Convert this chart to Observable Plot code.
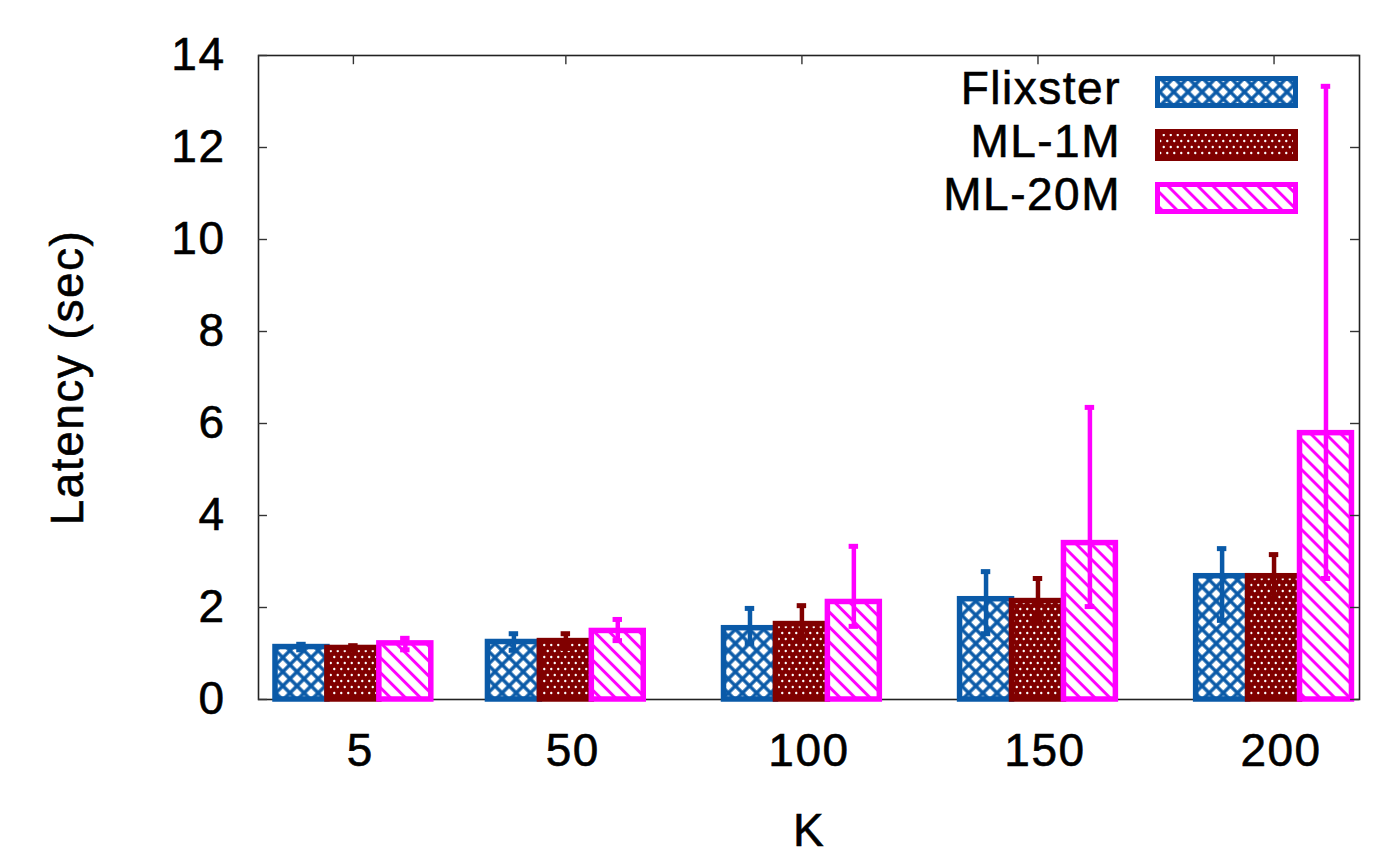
<!DOCTYPE html>
<html><head><meta charset="utf-8">
<script src="https://cdn.jsdelivr.net/npm/d3@7"></script>
<script src="https://cdn.jsdelivr.net/npm/@observablehq/plot@0.6"></script>
<style>
body{margin:0;background:#fff;}
#wrap{position:relative;width:1400px;height:855px;overflow:hidden;}
#legend{position:absolute;left:0;top:0;width:1400px;height:855px;pointer-events:none;}
svg text{stroke:#000;stroke-width:0.6px;}
</style></head><body>
<svg width="0" height="0" style="position:absolute">
  <defs>
    <pattern id="pFlix" patternUnits="userSpaceOnUse" width="10" height="10" patternTransform="rotate(45)">
      <rect width="10" height="10" fill="#fff"/>
      <line x1="5" y1="0" x2="5" y2="10" stroke="#0a5aa8" stroke-width="3.4"/>
      <line x1="0" y1="5" x2="10" y2="5" stroke="#0a5aa8" stroke-width="3.4"/>
    </pattern>
    <pattern id="pML1M" patternUnits="userSpaceOnUse" width="7" height="12">
      <rect width="7" height="12" fill="#800000"/>
      <circle cx="1.75" cy="3" r="1.2" fill="#fff"/>
      <circle cx="5.25" cy="9" r="1.2" fill="#fff"/>
    </pattern>
    <pattern id="pML20M" patternUnits="userSpaceOnUse" width="10.6" height="10.6" patternTransform="rotate(-45)">
      <rect width="10.6" height="10.6" fill="#fff"/>
      <line x1="5.3" y1="0" x2="5.3" y2="10.6" stroke="#ff00ff" stroke-width="3"/>
    </pattern>
  </defs>
</svg>
<div id="wrap"><svg id="legend"></svg></div>
<script>
// ---- data ----
const K = [5, 50, 100, 150, 200];
const seriesNames = ["Flixster", "ML-1M", "ML-20M"];
const flixster   = [1.14, 1.25, 1.55, 2.18, 2.68];
const flixsterLo = [1.08, 1.07, 1.22, 1.43, 1.72];
const flixsterHi = [1.20, 1.43, 1.98, 2.78, 3.28];
const ml1m   = [1.12, 1.27, 1.64, 2.14, 2.68];
const ml1mLo = [1.07, 1.11, 1.30, 1.70, 2.20];
const ml1mHi = [1.17, 1.43, 2.04, 2.63, 3.15];
const ml20m   = [1.22, 1.49, 2.12, 3.40, 5.79];
const ml20mLo = [1.08, 1.28, 1.59, 2.02, 2.63];
const ml20mHi = [1.33, 1.74, 3.33, 6.35, 13.33];
const yTicks = [0, 2, 4, 6, 8, 10, 12, 14];

// ---- styles ----
const colors = ["#0a5aa8", "#800000", "#ff00ff"];
const fills = ["url(#pFlix)", "url(#pML1M)", "url(#pML20M)"];
const xDomain = [-15.1, 218.1];
const yDomain = [0, 14];
const barW = 11;      // in x units
const capHalf = 1.0;  // in x units
const tickX = 1.9;    // inward tick length in x units
const tickY = 0.2;    // inward tick length in y units
const FONT = "'Liberation Sans', Arial, Helvetica, sans-serif";

const series = [
  {mean: flixster, lo: flixsterLo, hi: flixsterHi},
  {mean: ml1m, lo: ml1mLo, hi: ml1mHi},
  {mean: ml20m, lo: ml20mLo, hi: ml20mHi}
];
const rows = series.map((s, i) => K.map((k, j) => ({k, x: k + (i - 1) * barW, v: s.mean[j], lo: s.lo[j], hi: s.hi[j]})));

const marks = [Plot.frame({stroke: "#222", strokeWidth: 1.6})];
rows.forEach((r, i) => {
  marks.push(Plot.rectY(r, {x1: d => d.x - barW / 2, x2: d => d.x + barW / 2, y1: 0, y2: "v", fill: fills[i], stroke: colors[i], strokeWidth: 5.5}));
  marks.push(Plot.ruleX(r, {x: "x", y1: "lo", y2: "hi", stroke: colors[i], strokeWidth: 4.5}));
  marks.push(Plot.ruleY(r, {y: "hi", x1: d => d.x - capHalf, x2: d => d.x + capHalf, stroke: colors[i], strokeWidth: 5}));
  marks.push(Plot.ruleY(r, {y: "lo", x1: d => d.x - capHalf, x2: d => d.x + capHalf, stroke: colors[i], strokeWidth: 5}));
});
marks.push(Plot.ruleY(yTicks, {y: d => d, x1: xDomain[0], x2: xDomain[0] + tickX, stroke: "#333", strokeWidth: 1.4}));
marks.push(Plot.ruleY(yTicks, {y: d => d, x1: xDomain[1] - tickX, x2: xDomain[1], stroke: "#333", strokeWidth: 1.4}));
marks.push(Plot.ruleX(K, {x: d => d, y1: yDomain[1], y2: yDomain[1] - tickY, stroke: "#333", strokeWidth: 1.4}));
marks.push(Plot.axisY({ticks: yTicks, tickSize: 0, tickPadding: 33, tickFormat: d => String(d), label: "Latency (sec)", labelAnchor: "center", labelArrow: "none", labelOffset: 208}));
marks.push(Plot.axisX({ticks: K, tickSize: 0, tickPadding: 34, dx: 7, tickFormat: d => String(d), label: "K", labelAnchor: "center", labelArrow: "none", labelOffset: 146}));

const chart = Plot.plot({
  width: 1400, height: 855,
  marginLeft: 258, marginRight: 41, marginTop: 55, marginBottom: 156,
  x: {domain: xDomain},
  y: {domain: yDomain},
  style: {fontFamily: FONT, fontSize: "46px", color: "#000", background: "#fff", letterSpacing: "1.5px", overflow: "visible"},
  marks
});
const wrap = document.getElementById("wrap");
wrap.insertBefore(chart, wrap.firstChild);
chart.style.position = "absolute"; chart.style.left = "0"; chart.style.top = "0";

// ---- legend ----
const leg = d3.select("#legend");
seriesNames.forEach((name, i) => {
  const cy = 92 + i * 53;
  leg.append("text").attr("x", 1121).attr("y", cy + 12).attr("text-anchor", "end")
    .attr("font-family", FONT).attr("font-size", 46).attr("letter-spacing", "1.5px").text(name);
  leg.append("rect").attr("x", 1157.5).attr("y", cy - 13.5).attr("width", 138).attr("height", 27)
    .attr("fill", fills[i]).attr("stroke", colors[i]).attr("stroke-width", 5);
});
</script>
</body></html>
